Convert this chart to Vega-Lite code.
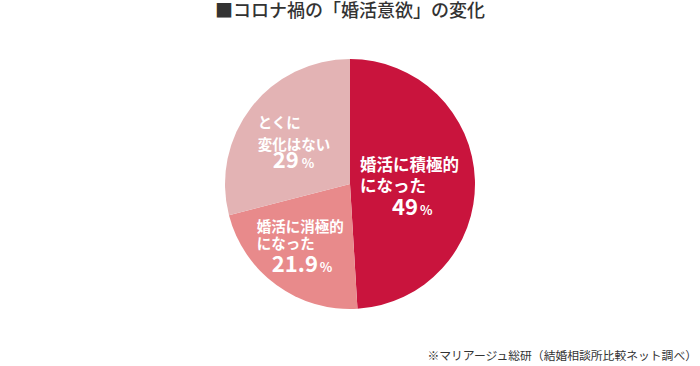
{
  "$schema": "https://vega.github.io/schema/vega-lite/v6.json",
  "padding": {"top": 3, "left": 0, "right": 0, "bottom": 0},
  "background": "white",
  "title": {"text": "■コロナ禍の「婚活意欲」の変化", "font": "Noto Sans CJK JP", "fontSize": 18, "fontWeight": 500, "color": "#333333", "anchor": "middle", "offset": 4},
  "data": {"values": [
    {"k": "a", "value": 49, "l1": "婚活に積極的", "l2": "になった", "num": "49", "order": 1},
    {"k": "b", "value": 21.9, "l1": "婚活に消極的", "l2": "になった", "num": "21.9", "order": 2},
    {"k": "c", "value": 29, "l1": "とくに", "l2": "変化はない", "num": "29", "order": 3}
  ]},
  "vconcat": [{
    "width": 700,
    "height": 318,
    "title": {"text": "※マリアージュ総研（結婚相談所比較ネット調べ）", "orient": "bottom", "anchor": "end", "font": "Noto Sans CJK JP", "fontSize": 11.8, "fontWeight": "normal", "color": "#333333", "offset": 8, "dx": -3},
    "encoding": {
      "theta": {"field": "value", "type": "quantitative", "stack": true},
      "order": {"field": "order", "type": "quantitative"}
    },
    "layer": [
      {"mark": {"type": "arc", "outerRadius": 125},
       "encoding": {"color": {"field": "k", "type": "nominal", "scale": {"domain": ["a", "b", "c"], "range": ["#c9143d", "#e88a8b", "#e3b3b4"]}, "legend": null}}},

      {"mark": {"type": "text", "radius": 70, "align": "left", "baseline": "alphabetic", "dx": -60, "dy": -11, "font": "Noto Sans CJK JP", "fontSize": 16.5, "fontWeight": "bold", "color": "white"},
       "encoding": {"text": {"condition": {"test": "datum.k === 'a'", "field": "l1"}, "value": ""}}},
      {"mark": {"type": "text", "radius": 70, "align": "left", "baseline": "alphabetic", "dx": -60, "dy": 10, "font": "Noto Sans CJK JP", "fontSize": 16.5, "fontWeight": "bold", "color": "white"},
       "encoding": {"text": {"condition": {"test": "datum.k === 'a'", "field": "l2"}, "value": ""}}},
      {"mark": {"type": "text", "radius": 70, "align": "left", "baseline": "alphabetic", "dx": -28, "dy": 33, "font": "Noto Sans CJK JP", "fontSize": 22, "fontWeight": "bold", "color": "white"},
       "encoding": {"text": {"condition": {"test": "datum.k === 'a'", "field": "num"}, "value": ""}}},
      {"mark": {"type": "text", "radius": 70, "align": "left", "baseline": "alphabetic", "dx": 0, "dy": 33, "font": "Noto Sans CJK JP", "fontSize": 13, "fontWeight": "bold", "color": "white"},
       "encoding": {"text": {"condition": {"test": "datum.k === 'a'", "value": "%"}, "value": ""}}},

      {"mark": {"type": "text", "radius": 70, "align": "left", "baseline": "alphabetic", "dx": -52, "dy": -9, "font": "Noto Sans CJK JP", "fontSize": 14.5, "fontWeight": "bold", "color": "white"},
       "encoding": {"text": {"condition": {"test": "datum.k === 'b'", "field": "l1"}, "value": ""}}},
      {"mark": {"type": "text", "radius": 70, "align": "left", "baseline": "alphabetic", "dx": -52, "dy": 8, "font": "Noto Sans CJK JP", "fontSize": 14.5, "fontWeight": "bold", "color": "white"},
       "encoding": {"text": {"condition": {"test": "datum.k === 'b'", "field": "l2"}, "value": ""}}},
      {"mark": {"type": "text", "radius": 70, "align": "left", "baseline": "alphabetic", "dx": -37, "dy": 31, "font": "Noto Sans CJK JP", "fontSize": 22, "fontWeight": "bold", "color": "white"},
       "encoding": {"text": {"condition": {"test": "datum.k === 'b'", "field": "num"}, "value": ""}}},
      {"mark": {"type": "text", "radius": 70, "align": "left", "baseline": "alphabetic", "dx": 11, "dy": 31, "font": "Noto Sans CJK JP", "fontSize": 13, "fontWeight": "bold", "color": "white"},
       "encoding": {"text": {"condition": {"test": "datum.k === 'b'", "value": "%"}, "value": ""}}},

      {"mark": {"type": "text", "radius": 70, "align": "left", "baseline": "alphabetic", "dx": -37, "dy": -13, "font": "Noto Sans CJK JP", "fontSize": 14.5, "fontWeight": "bold", "color": "white"},
       "encoding": {"text": {"condition": {"test": "datum.k === 'c'", "field": "l1"}, "value": ""}}},
      {"mark": {"type": "text", "radius": 70, "align": "left", "baseline": "alphabetic", "dx": -37, "dy": 9, "font": "Noto Sans CJK JP", "fontSize": 14.5, "fontWeight": "bold", "color": "white"},
       "encoding": {"text": {"condition": {"test": "datum.k === 'c'", "field": "l2"}, "value": ""}}},
      {"mark": {"type": "text", "radius": 70, "align": "left", "baseline": "alphabetic", "dx": -22, "dy": 27, "font": "Noto Sans CJK JP", "fontSize": 22, "fontWeight": "bold", "color": "white"},
       "encoding": {"text": {"condition": {"test": "datum.k === 'c'", "field": "num"}, "value": ""}}},
      {"mark": {"type": "text", "radius": 70, "align": "left", "baseline": "alphabetic", "dx": 7, "dy": 27, "font": "Noto Sans CJK JP", "fontSize": 13, "fontWeight": "bold", "color": "white"},
       "encoding": {"text": {"condition": {"test": "datum.k === 'c'", "value": "%"}, "value": ""}}}
    ]
  }],
  "config": {"view": {"stroke": null}, "concat": {"spacing": 0}}
}
